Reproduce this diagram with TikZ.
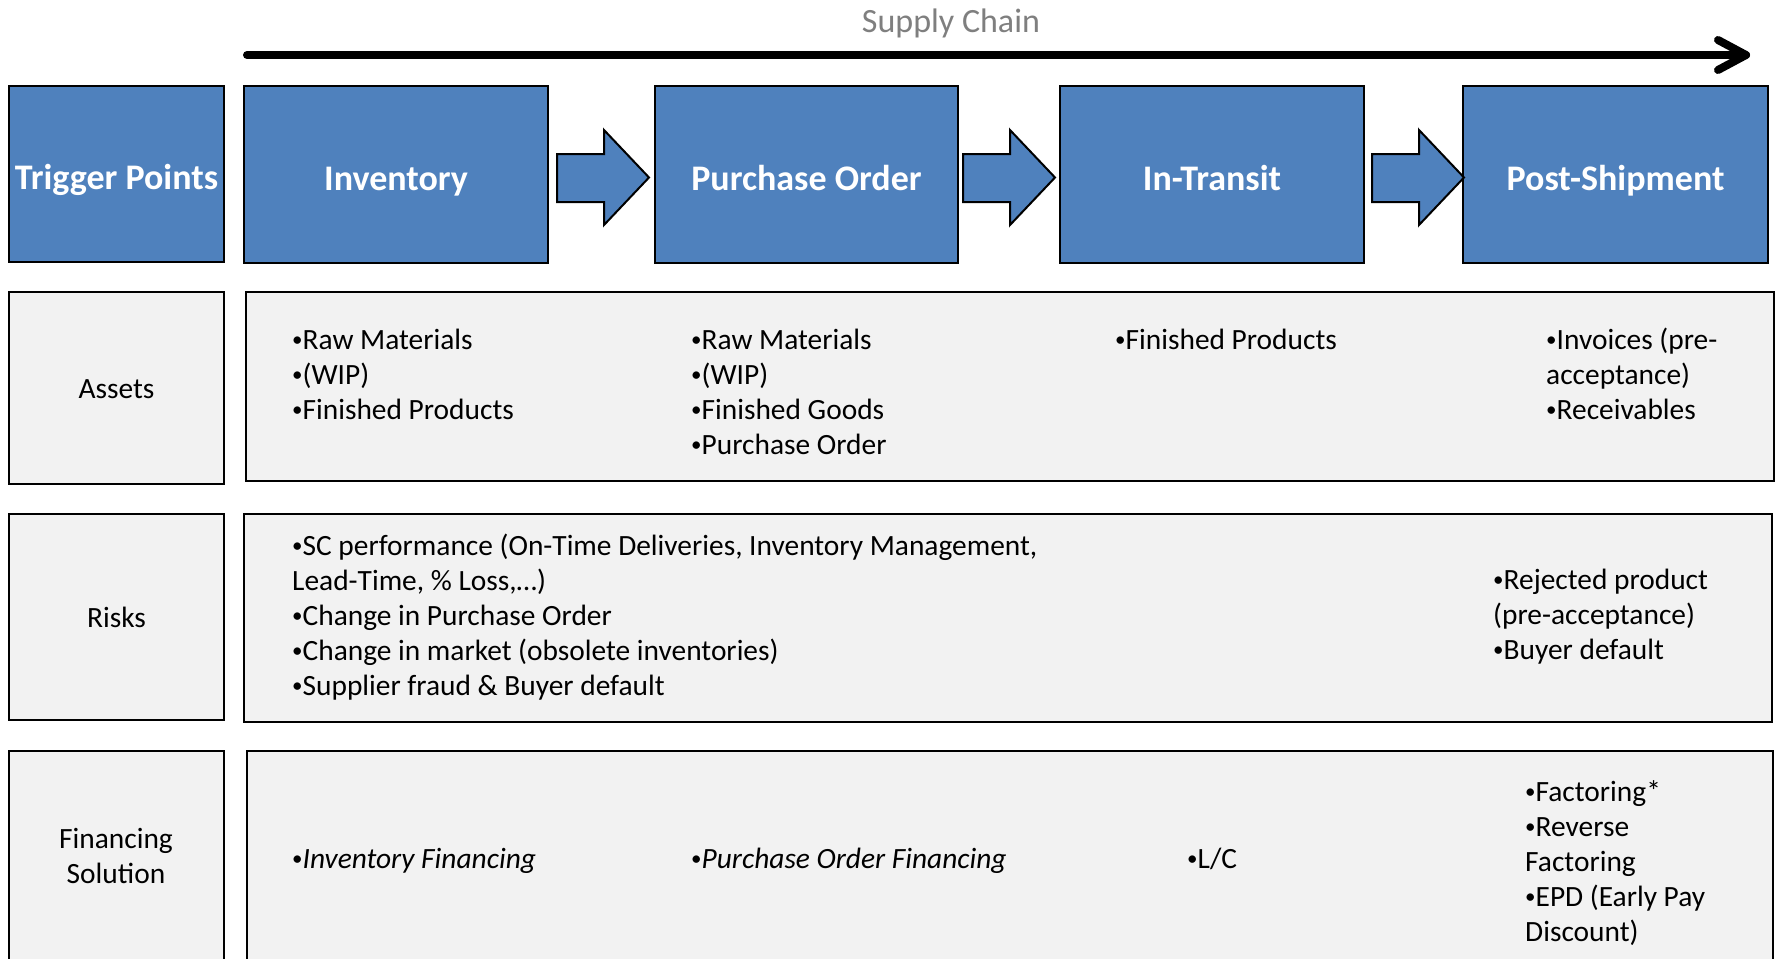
\documentclass[tikz,border=0pt]{standalone}
\usepackage{fontspec}
\setmainfont{Carlito}
\definecolor{hdrblue}{HTML}{4F81BD}
\definecolor{cellgray}{HTML}{F2F2F2}
\definecolor{titlegray}{HTML}{7F7F7F}
\newcommand\bul{{\fontsize{21}{35}\selectfont\raisebox{2.2pt}{•}}}
\tikzset{
  hdrbox/.style={draw=black, line width=2.2pt, fill=hdrblue, anchor=north west, inner sep=0pt, outer sep=0pt,
    text=white, font=\fontsize{36}{43}\selectfont\bfseries, text height=31pt, text depth=0pt},
  cellbox/.style={draw=black, line width=2.2pt, fill=cellgray, anchor=north west, inner sep=0pt, outer sep=0pt,
    font=\fontsize{29.4}{35}\selectfont, text height=21pt, text depth=0pt},
  txt/.style={font=\fontsize{29.4}{35}\selectfont, inner sep=0pt, anchor=base west, align=left},
  blockarr/.style={draw=black, line width=2pt, fill=hdrblue, line join=miter},
  scarrow/.style={line width=8pt, line cap=round, line join=round}
}
\begin{document}
\begin{tikzpicture}[x=1pt,y=-1pt]
\path[use as bounding box] (0,0) rectangle (1776,958);
\clip (0,0) rectangle (1776,958);
\fill[white] (0,0) rectangle (1776,958);

% Supply chain arrow
\node[font=\fontsize{34}{40}\selectfont, text=titlegray, inner sep=0pt, anchor=base] (sclabel) at (951,33) {Supply Chain};
\coordinate (scstart) at (247,55);
\coordinate (scend) at (1746,55);
\coordinate (headtop) at (1718,40);
\coordinate (headbot) at (1718,70);
\draw[scarrow] (scstart) -- (scend);
\draw[scarrow] (headtop) -- (scend) -- (headbot);

% Header row
\node[hdrbox, minimum width=215pt, minimum height=176pt] (trig) at (9,86) {Trigger Points};
\node[hdrbox, minimum width=304pt, minimum height=177pt] (inv) at (244,86) {Inventory};
\node[hdrbox, minimum width=303pt, minimum height=177pt] (po) at (655,86) {Purchase Order};
\node[hdrbox, minimum width=304pt, minimum height=177pt] (transit) at (1060,86) {In-Transit};
\node[hdrbox, minimum width=305pt, minimum height=177pt] (post) at (1463,86) {Post-Shipment};

% Block arrows
\foreach \ax in {557,963,1372}{
  \draw[blockarr, shift={(\ax,0)}] (0,154) -- (47,154) -- (47,130) -- (92,177.5) -- (47,225) -- (47,202) -- (0,202) -- cycle;
}

% Assets row
\node[cellbox, minimum width=215pt, minimum height=192pt] (assetslbl) at (9,292) {Assets};
\node[cellbox, minimum width=1528pt, minimum height=189pt] (assets) at (246,292) {};
\node[txt] (a1) at (292,419) {\bul Raw Materials\\\bul(WIP)\\\bul Finished Products};
\node[txt] (a2) at (691,454) {\bul Raw Materials\\\bul(WIP)\\\bul Finished Goods\\\bul Purchase Order};
\node[txt] (a3) at (1115,349) {\bul Finished Products};
\node[txt] (a4) at (1546,419) {\bul Invoices (pre-\\acceptance)\\\bul Receivables};

% Risks row
\node[cellbox, minimum width=215pt, minimum height=206pt] (riskslbl) at (9,514) {Risks};
\node[cellbox, minimum width=1528pt, minimum height=208pt] (risks) at (244,514) {};
\node[txt] (r1) at (292,695) {\bul SC performance (On-Time Deliveries, Inventory Management,\\Lead-Time, \% Loss,…)\\\bul Change in Purchase Order\\\bul Change in market (obsolete inventories)\\\bul Supplier fraud \& Buyer default};
\node[txt] (r4) at (1493,659) {\bul Rejected product\\(pre-acceptance)\\\bul Buyer default};

% Financing row
\node[cellbox, minimum width=215pt, minimum height=240pt] (finlbl) at (9,751) {};
\node[txt, anchor=base, align=center] (finlbltext) at (116,883) {Financing\\Solution};
\node[cellbox, minimum width=1526pt, minimum height=240pt] (fin) at (247,751) {};
\node[txt] (f1) at (292,868) {\bul\textit{Inventory Financing}};
\node[txt] (f2) at (691,868) {\bul\textit{Purchase Order Financing}};
\node[txt] (f3) at (1187,868) {\bul L/C};
\node[txt] (f4) at (1525,941) {\bul Factoring*\\\bul Reverse\\Factoring\\\bul EPD (Early Pay\\Discount)};
\end{tikzpicture}
\end{document}
